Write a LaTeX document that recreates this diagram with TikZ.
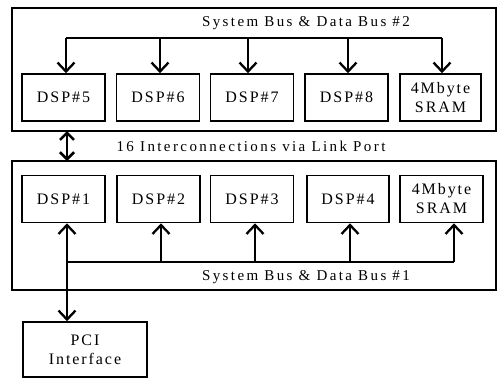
\documentclass[tikz,border=0pt]{standalone}
\usepackage{fontspec}
\setmainfont{Liberation Serif}[LetterSpace=12]
\newfontfamily\lblfont{Liberation Serif}[LetterSpace=16]
\usetikzlibrary{arrows.meta}
\begin{document}
\begin{tikzpicture}[x=1pt,y=-1pt,
  box/.style={draw, line width=1.6pt, minimum width=83pt, minimum height=47pt, inner sep=0pt, align=center, font=\fontsize{16}{19}\selectfont},
  outer/.style={draw, line width=1.2pt},
  bus/.style={line width=1.3pt},
  arr/.style={line width=1.3pt, -{Straight Barb[length=9pt,width=17pt,line width=2.3pt]}},
  darr/.style={line width=1.3pt, {Straight Barb[length=9pt,width=17pt,line width=2.3pt]}-{Straight Barb[length=9pt,width=17pt,line width=2.3pt]}},
  link/.style={line width=1.8pt, {Straight Barb[length=7pt,width=14pt,line width=2.6pt]}-{Straight Barb[length=7pt,width=14pt,line width=2.6pt]}},
  lbl/.style={font=\lblfont\fontsize{15}{17}\selectfont, inner sep=0pt}
]
\useasboundingbox (0,0) rectangle (500,388);
% outer boxes
\draw[outer] (12,8) rectangle (496,131);
\draw[outer] (12,161) rectangle (496,290);
\coordinate (top2) at (0,131);
\coordinate (bot1) at (0,161);
% top row
\node[box] (d5) at (63.5,97.5) {DSP\#5};
\node[box] (d6) at (158,97.5) {DSP\#6};
\node[box] (d7) at (252,97.5) {DSP\#7};
\node[box] (d8) at (346.5,97.5) {DSP\#8};
\node[box, minimum width=81pt] (s2) at (440.5,97.5) {4Mbyte\\SRAM};
% bottom row
\node[box] (d1) at (63.5,199) {DSP\#1};
\node[box] (d2) at (158.5,199) {DSP\#2};
\node[box] (d3) at (252,199) {DSP\#3};
\node[box, minimum width=82pt] (d4) at (348,199) {DSP\#4};
\node[box] (s1) at (441.5,199) {4Mbyte\\SRAM};
% PCI
\node[box, minimum width=124pt, minimum height=55pt] (pci) at (85,349.5) {PCI\\Interface};
% labels
\node[lbl] (b2lbl) at (306,23) {System Bus \& Data Bus \#2};
\node[lbl] (b1lbl) at (306,277) {System Bus \& Data Bus \#1};
\node[lbl] (lnk) at (251,146) {16 Interconnections via Link Port};
% bus 2
\coordinate (b2) at (0,38);
\draw[bus] ([xshift=2.5pt]d5.north |- b2) -- ([xshift=1.5pt]s2.north |- b2);
\draw[arr] ([xshift=2.5pt]d5.north |- b2) -- ([xshift=2.5pt]d5.north);
\draw[arr] ([xshift=2pt]d6.north |- b2) -- ([xshift=2pt]d6.north);
\draw[arr] ([xshift=-4pt]d7.north |- b2) -- ([xshift=-4pt]d7.north);
\draw[arr] ([xshift=1.5pt]d8.north |- b2) -- ([xshift=1.5pt]d8.north);
\draw[arr] ([xshift=1.5pt]s2.north |- b2) -- ([xshift=1.5pt]s2.north);
% link
\draw[link] ([xshift=3.5pt]d5.south |- top2) -- ([xshift=3.5pt]d1.north |- bot1);
% bus 1
\coordinate (b1) at (0,262);
\draw[bus] ([xshift=3.5pt]d1.south |- b1) -- ([xshift=12.5pt]s1.south |- b1);
\draw[arr] ([xshift=2.5pt]d2.south |- b1) -- ([xshift=2.5pt]d2.south);
\draw[arr] ([xshift=3pt]d3.south |- b1) -- ([xshift=3pt]d3.south);
\draw[arr] ([xshift=2pt]d4.south |- b1) -- ([xshift=2pt]d4.south);
\draw[arr] ([xshift=12.5pt]s1.south |- b1) -- ([xshift=12.5pt]s1.south);
\draw[darr] ([xshift=3.5pt]d1.south) -- ([xshift=3.5pt]d1.south |- pci.north);
\end{tikzpicture}
\end{document}
